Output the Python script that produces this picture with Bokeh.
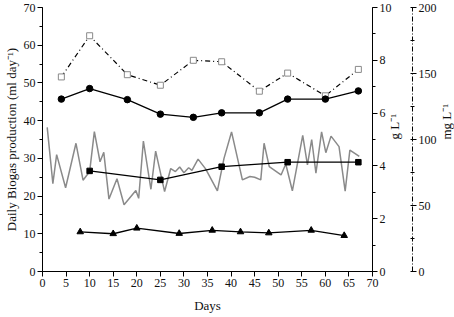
from bokeh.plotting import figure
from bokeh.models import Range1d, LinearAxis, SingleIntervalTicker
from bokeh.embed import file_html
from bokeh.resources import INLINE

# ---- data ----
biogas_days = [1.0, 2.2, 3.0, 4.9, 7.1, 8.6, 10.0, 11.0, 12.2, 13.0, 14.1, 15.8, 17.3, 19.8, 20.4,
               21.4, 23.0, 24.0, 25.9, 27.2, 28.2, 29.1, 30.0, 31.0, 31.7, 33.0, 34.6, 37.1, 38.5,
               40.1, 42.4, 44.0, 45.0, 46.3, 47.0, 48.1, 50.6, 51.6, 53.0, 55.2, 56.2, 57.1, 58.0,
               59.2, 60.1, 61.2, 62.9, 64.2, 65.2, 67.2]
biogas_vals = [38.2, 23.3, 31.0, 22.2, 34.0, 24.2, 26.5, 37.1, 29.1, 31.6, 19.2, 24.6, 17.7, 21.5, 19.4,
               34.6, 21.8, 31.9, 21.2, 27.3, 26.5, 27.7, 26.2, 27.5, 26.8, 29.8, 27.2, 21.4, 30.0,
               37.0, 24.3, 25.2, 25.0, 24.3, 34.0, 27.8, 25.6, 28.5, 21.4, 36.1, 28.3, 35.0, 26.1,
               37.0, 31.5, 35.9, 33.1, 21.3, 32.2, 30.5]

sample_days = [4, 10, 18, 25, 32, 38, 46, 52, 60, 67]
circle_gL = [6.53, 6.93, 6.51, 5.96, 5.84, 6.01, 6.01, 6.53, 6.53, 6.84]
open_sq_mgL = [147.4, 178.6, 149.1, 141.1, 160.0, 158.9, 136.6, 150.3, 133.1, 153.1]

square_days = [10, 25, 38, 52, 67]
square_gL = [3.81, 3.47, 3.97, 4.14, 4.14]

tri_days = [8, 15, 20, 29, 36, 42, 48, 57, 64]
tri_gL = [1.50, 1.43, 1.64, 1.44, 1.56, 1.50, 1.46, 1.56, 1.36]

FONT = "Liberation Serif"

p = figure(frame_width=330, frame_height=264, x_range=Range1d(0, 70), y_range=Range1d(0, 70),
           output_backend="svg", toolbar_location=None,
           min_border_top=7, min_border_left=0, min_border_right=0, min_border_bottom=0)
p.extra_y_ranges = {"g": Range1d(0, 10), "mg": Range1d(0, 200)}
p.outline_line_color = None
p.xgrid.grid_line_color = None
p.ygrid.grid_line_color = None
p.background_fill_color = "white"
p.border_fill_color = "white"


def style(ax, label):
    ax.axis_label = label
    ax.axis_label_text_font = FONT
    ax.axis_label_text_font_style = "normal"
    ax.axis_label_text_font_size = "13px"
    ax.axis_label_text_color = "#111111"
    ax.axis_label_standoff = 2
    ax.major_label_text_font = FONT
    ax.major_label_text_font_style = "normal"
    ax.major_label_text_font_size = "12px"
    ax.major_label_text_color = "#111111"
    ax.major_label_standoff = 2
    ax.axis_line_color = "black"
    ax.major_tick_line_color = "black"
    ax.minor_tick_line_color = "black"
    ax.major_tick_out = 5
    ax.major_tick_in = 0
    ax.minor_tick_out = 3
    ax.minor_tick_in = 0


xa = p.xaxis[0]
xa.ticker = SingleIntervalTicker(interval=5, num_minor_ticks=0)
style(xa, "Days")
xa.axis_label_standoff = 8
xa.minor_tick_line_color = None

ya = p.yaxis[0]
ya.ticker = SingleIntervalTicker(interval=10, num_minor_ticks=2)
style(ya, "Daily Biogas production (ml day\u207b\u00b9)")

g_axis = LinearAxis(y_range_name="g", ticker=SingleIntervalTicker(interval=2, num_minor_ticks=2))
style(g_axis, "g L\u207b\u00b9")
g_axis.axis_label_standoff = 0
p.add_layout(g_axis, "right")

mg_axis = LinearAxis(y_range_name="mg", ticker=SingleIntervalTicker(interval=50, num_minor_ticks=2))
style(mg_axis, "mg L\u207b\u00b9")
mg_axis.axis_line_dash = "5 2 1 2"
mg_axis.major_tick_out = 4
mg_axis.minor_tick_out = 2
mg_axis.minor_tick_in = 2
mg_axis.axis_label_standoff = 7
p.add_layout(mg_axis, "right")

for ax in (g_axis, mg_axis):
    if "axis_label_orientation" in ax.properties():
        ax.axis_label_orientation = 1.5707963

# gray daily biogas line
p.line(biogas_days, biogas_vals, line_color="#8a8a8a", line_width=1.5)

# open squares, dash-dot (mg/L)
p.line(sample_days, open_sq_mgL, y_range_name="mg", line_color="black", line_width=1.2,
       line_dash="5 3 1 3")
p.scatter(sample_days, open_sq_mgL, y_range_name="mg", marker="square", size=6,
          fill_color="white", line_color="#8a8a8a", line_width=1)

# filled circles (g/L)
p.line(sample_days, circle_gL, y_range_name="g", line_color="black", line_width=1.3)
p.scatter(sample_days, circle_gL, y_range_name="g", marker="circle", size=6.5,
          fill_color="black", line_color="black")

# filled squares (g/L)
p.line(square_days, square_gL, y_range_name="g", line_color="black", line_width=1.3)
p.scatter(square_days, square_gL, y_range_name="g", marker="square", size=5.5,
          fill_color="black", line_color="black")

# triangles (g/L)
p.line(tri_days, tri_gL, y_range_name="g", line_color="black", line_width=1.3)
p.scatter(tri_days, tri_gL, y_range_name="g", marker="triangle", size=6.5,
          fill_color="black", line_color="black")

open("out.html", "w").write(file_html(p, INLINE))
